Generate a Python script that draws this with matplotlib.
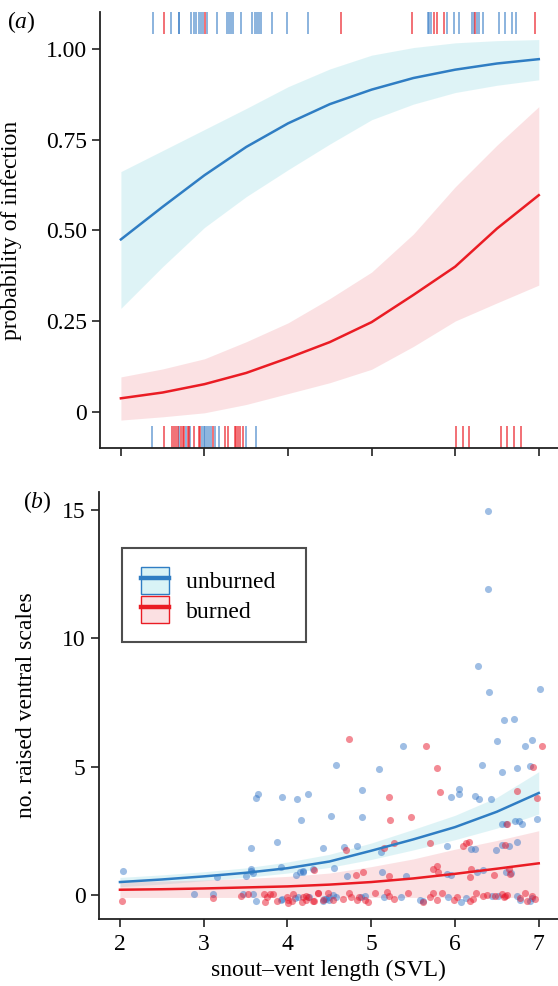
import matplotlib

matplotlib.use("Agg")
import matplotlib.pyplot as plt
from matplotlib.lines import Line2D
from matplotlib.patches import Patch

plt.rcParams["font.family"] = ["Liberation Serif", "DejaVu Serif"]
plt.rcParams["mathtext.fontset"] = "custom"
plt.rcParams["mathtext.rm"] = "Liberation Serif"
plt.rcParams["mathtext.it"] = "Liberation Serif:italic"

# panel (a): fitted probability of infection
fit_svl = [2.0, 2.5, 3.0, 3.5, 4.0, 4.5, 5.0, 5.5, 6.0, 6.5, 7.0]
prob_unburned = [0.475, 0.565, 0.652, 0.730, 0.795, 0.848, 0.888, 0.920, 0.943, 0.960, 0.972]
prob_unburned_lo = [0.285, 0.400, 0.508, 0.593, 0.667, 0.738, 0.805, 0.848, 0.880, 0.900, 0.915]
prob_unburned_hi = [0.662, 0.720, 0.778, 0.836, 0.896, 0.945, 0.983, 1.004, 1.017, 1.023, 1.026]
prob_burned = [0.037, 0.053, 0.076, 0.107, 0.148, 0.192, 0.247, 0.322, 0.400, 0.505, 0.597]
prob_burned_lo = [-0.023, -0.014, -0.003, 0.020, 0.050, 0.080, 0.117, 0.180, 0.250, 0.300, 0.349]
prob_burned_hi = [0.096, 0.118, 0.146, 0.193, 0.245, 0.312, 0.385, 0.490, 0.620, 0.735, 0.841]

# rugs: infected (top) and uninfected (bottom) lizards
rug_top_unburned = [2.38, 2.60, 2.69, 2.70, 2.84, 2.88, 2.90, 2.93, 2.96, 2.98, 3.03, 3.15,
                    3.27, 3.29, 3.32, 3.34, 3.44, 3.57, 3.61, 3.63, 3.65, 3.68, 3.81, 3.99,
                    4.24, 5.67, 5.69, 5.71, 5.90, 5.99, 6.05, 6.20, 6.22, 6.26, 6.28, 6.33,
                    6.53, 6.59, 6.68, 6.73]
rug_top_burned = [2.51, 3.01, 4.63, 5.48, 5.75, 5.78, 5.87, 6.24, 6.96]
rug_bottom_unburned = [2.37, 2.70, 2.78, 2.83, 2.97, 2.99, 3.01, 3.03, 3.05, 3.08, 3.12,
                       3.17, 3.50, 3.62]
rug_bottom_burned = [2.52, 2.61, 2.64, 2.66, 2.68, 2.72, 2.74, 2.76, 2.80, 2.81, 2.87,
                     2.93, 2.95, 3.10, 3.24, 3.28, 3.36, 3.38, 3.40, 3.43, 3.46, 6.01,
                     6.09, 6.17, 6.55, 6.62, 6.70, 6.79]

# panel (b): fitted counts of raised ventral scales
count_unburned = [0.50, 0.60, 0.72, 0.86, 1.04, 1.30, 1.72, 2.16, 2.64, 3.24, 3.97]
count_unburned_lo = [0.32, 0.42, 0.55, 0.68, 0.85, 1.07, 1.38, 1.75, 2.15, 2.60, 3.15]
count_unburned_hi = [0.68, 0.78, 0.90, 1.05, 1.28, 1.58, 2.02, 2.55, 3.10, 3.80, 4.80]
count_burned = [0.20, 0.22, 0.25, 0.29, 0.33, 0.40, 0.50, 0.64, 0.82, 1.02, 1.23]
count_burned_lo = [-0.10, -0.10, -0.10, -0.10, -0.10, -0.10, -0.10, -0.10, -0.10, -0.10, -0.10]
count_burned_hi = [0.50, 0.54, 0.58, 0.64, 0.72, 0.85, 1.10, 1.40, 1.78, 2.12, 2.50]

# observed lizards (jittered as drawn)
obs_svl_unburned = [6.40, 6.40, 6.27, 6.41, 7.02, 6.59, 6.71, 6.50, 6.92, 6.84, 5.38,
                    4.58, 5.09, 6.32, 6.56, 6.74, 6.90, 4.89, 5.95, 6.05, 6.05, 6.24,
                    6.29, 6.43, 4.52, 4.89, 6.56, 6.61, 6.72, 6.76, 6.80, 6.98, 4.42,
                    4.68, 4.83, 5.12, 5.90, 6.19, 6.24, 6.49, 6.56, 6.65, 6.74, 4.18,
                    4.30, 4.56, 4.71, 5.13, 5.41, 5.90, 5.95, 6.33, 6.26, 6.61, 6.67,
                    2.04, 3.65, 3.62, 3.93, 4.11, 4.25, 4.16, 3.87, 3.56, 3.57, 3.56,
                    3.59, 3.16, 3.51, 3.92, 4.10, 4.15, 4.19,
                    2.89, 3.11, 3.47, 3.59, 3.63, 3.92, 3.94, 4.09, 4.12, 4.42, 4.46,
                    4.50, 4.26, 4.44, 4.50, 4.54, 4.58, 4.88, 4.92, 5.15, 5.35, 5.58,
                    5.62, 5.92, 6.07, 6.13, 6.44, 6.51, 6.74, 6.78, 6.90, 6.92]
obs_count_unburned = [14.97, 11.93, 8.92, 7.89, 8.01, 6.81, 6.86, 5.98, 6.05, 5.82, 5.82,
                      5.06, 4.92, 5.06, 4.80, 4.95, 5.02, 4.09, 3.80, 4.11, 3.92, 3.84,
                      3.73, 3.72, 3.07, 3.02, 2.76, 2.75, 2.86, 2.87, 2.77, 2.95, 1.81,
                      1.86, 1.91, 1.69, 1.91, 1.80, 1.80, 1.73, 1.95, 1.91, 2.08, 0.91,
                      1.00, 1.03, 0.75, 0.91, 0.75, 0.80, 0.78, 0.96, 0.90, 0.88, 0.84,
                      0.95, 3.95, 3.77, 3.80, 3.73, 3.92, 2.90, 2.08, 1.82, 1.02, 0.95,
                      0.84, 0.71, 0.75, 1.08, 0.79, 0.88, 0.92,
                      0.02, 0.04, 0.04, 0.04, -0.22, -0.20, -0.17, -0.12, -0.07, -0.25, -0.17,
                      -0.09, -0.09, -0.16, -0.20, 0.00, -0.09, -0.09, -0.03, -0.09, -0.09, -0.20,
                      -0.22, -0.09, -0.29, -0.12, -0.04, -0.03, -0.03, -0.20, -0.22, -0.12]
obs_svl_burned = [4.73, 5.66, 7.04, 5.78, 6.93, 5.21, 5.82, 6.74, 6.98, 5.23, 5.48, 6.62,
                  4.70, 5.15, 5.27, 5.70, 6.10, 6.13, 6.17, 6.60, 4.32, 4.82, 4.90, 5.21,
                  5.74, 5.78, 5.80, 6.19, 6.18, 6.47, 6.64, 6.66,
                  2.02, 3.11, 3.44, 3.53, 3.72, 3.75, 3.79, 3.87, 3.83, 3.73, 3.99, 4.01,
                  4.01, 4.05, 4.07, 4.17, 4.22, 4.24, 4.30, 4.36,
                  4.18, 4.22, 4.32, 4.37, 4.42, 4.48, 4.54, 4.66, 4.74, 4.76, 4.83, 4.85,
                  4.92, 4.96, 5.05, 5.19, 5.21, 5.27, 5.44, 5.62, 5.70, 5.74, 5.78, 5.85,
                  5.99, 6.02, 6.18, 6.21, 6.25, 6.33, 6.38, 6.48, 6.56, 6.58, 6.60, 6.62,
                  6.78, 6.84, 6.86, 6.92, 6.96]
obs_count_burned = [6.09, 5.82, 5.82, 4.93, 4.98, 3.80, 4.02, 4.04, 3.79, 2.90, 3.05, 2.76,
                    1.73, 1.84, 2.03, 2.02, 1.89, 2.03, 2.05, 1.96, 0.96, 0.78, 0.88, 0.75,
                    1.00, 1.11, 0.88, 1.02, 0.71, 0.79, 0.99, 0.82,
                    -0.25, -0.12, -0.04, 0.02, 0.04, -0.07, 0.04, -0.22, 0.04, -0.26, -0.09, -0.20,
                    -0.31, -0.25, 0.04, -0.29, -0.03, -0.09, -0.22, 0.09,
                    -0.07, -0.20, -0.22, 0.06, -0.20, 0.09, -0.20, -0.16, 0.06, -0.09, -0.20, -0.07,
                    -0.20, -0.29, 0.09, 0.10, -0.03, -0.17, 0.06, -0.29, -0.09, 0.06, -0.20, 0.09,
                    -0.20, -0.09, -0.22, -0.17, 0.09, -0.04, 0.00, -0.04, 0.04, -0.09, -0.03, 0.01,
                    -0.13, 0.06, -0.22, -0.04, -0.18]

BLUE = "#2f7dc3"
RED = "#ea1c24"
BLUE_FILL = "#7fd3dd"
RED_FILL = "#f08a92"
FS = 17


def style_axes(ax):
    for side in ("top", "right"):
        ax.spines[side].set_visible(False)
    for side in ("left", "bottom"):
        ax.spines[side].set_linewidth(1.3)
        ax.spines[side].set_color("#222222")
    ax.tick_params(direction="out", length=6, width=1.2, labelsize=FS, color="#222222")
    ax.tick_params(axis="x", pad=5)
    ax.set_xlim(1.75, 7.23)
    ax.set_xticks([2, 3, 4, 5, 6, 7])


def draw_infection(ax):
    ax.fill_between(fit_svl, prob_unburned_lo, prob_unburned_hi, color=BLUE_FILL, alpha=0.25, lw=0)
    ax.fill_between(fit_svl, prob_burned_lo, prob_burned_hi, color=RED_FILL, alpha=0.25, lw=0)
    ax.plot(fit_svl, prob_unburned, color=BLUE, lw=1.8)
    ax.plot(fit_svl, prob_burned, color=RED, lw=1.8)

    trans = ax.get_xaxis_transform()
    ax.vlines(rug_top_unburned, 0.95, 1.0, transform=trans, color="#3c7fc6", lw=1.1, alpha=0.75)
    ax.vlines(rug_top_burned, 0.95, 1.0, transform=trans, color=RED, lw=1.1, alpha=0.8)
    ax.vlines(rug_bottom_unburned, 0.0, 0.05, transform=trans, color="#3c7fc6", lw=1.1, alpha=0.75)
    ax.vlines(rug_bottom_burned, 0.0, 0.05, transform=trans, color=RED, lw=1.1, alpha=0.8)

    style_axes(ax)
    ax.set_ylim(-0.1, 1.102)
    ax.set_yticks([0, 0.25, 0.5, 0.75, 1.0])
    ax.set_yticklabels(["0", "0.25", "0.50", "0.75", "1.00"])
    ax.tick_params(axis="x", labelbottom=False)
    ax.set_ylabel("probability of infection", fontsize=FS)


def draw_scales(ax):
    ax.fill_between(fit_svl, count_unburned_lo, count_unburned_hi, color=BLUE_FILL, alpha=0.25, lw=0)
    ax.fill_between(fit_svl, count_burned_lo, count_burned_hi, color=RED_FILL, alpha=0.25, lw=0)
    ax.scatter(obs_svl_unburned, obs_count_unburned, s=26, color="#2a6fc4", alpha=0.45, lw=0, zorder=3)
    ax.scatter(obs_svl_burned, obs_count_burned, s=26, color="#e8192c", alpha=0.5, lw=0, zorder=3)
    ax.plot(fit_svl, count_unburned, color=BLUE, lw=1.8, zorder=4)
    ax.plot(fit_svl, count_burned, color=RED, lw=1.8, zorder=4)

    style_axes(ax)
    ax.set_ylim(-0.94, 15.7)
    ax.set_yticks([0, 5, 10, 15])
    ax.set_xlabel("snout\u2013vent length (SVL)", fontsize=FS, labelpad=3)
    ax.set_ylabel("no. raised ventral scales", fontsize=FS)

    handles = [
        (Patch(facecolor="#d9f3f6", edgecolor=BLUE, lw=1.0), Line2D([], [], color=BLUE, lw=3.2)),
        (Patch(facecolor="#fbe0e2", edgecolor=RED, lw=1.0), Line2D([], [], color=RED, lw=3.2)),
    ]
    leg = ax.legend(handles, ["unburned  ", "burned"], loc="upper left",
                    bbox_to_anchor=(23 / 459, 1 - 56 / 427), fontsize=FS, frameon=True,
                    fancybox=False, handlelength=1.2, handleheight=1.4, borderpad=0.8,
                    labelspacing=0.08, handletextpad=0.7, borderaxespad=0)
    leg.get_frame().set_edgecolor("#222222")
    leg.get_frame().set_linewidth(1.5)


def main():
    fig = plt.figure(figsize=(5.58, 9.86), dpi=100)
    ax_a = fig.add_axes([100 / 558, 1 - 448 / 986, 458 / 558, 436 / 986])
    ax_b = fig.add_axes([99 / 558, 1 - 919 / 986, 459 / 558, 427 / 986])

    draw_infection(ax_a)
    draw_scales(ax_b)
    ax_a.yaxis.set_label_coords(-78 / 458, 0.5)
    ax_b.yaxis.set_label_coords(-62 / 459, 0.5)

    fig.text(7 / 558, 1 - 22 / 986, r"($\it{a}$)", fontsize=FS, va="center", ha="left")
    fig.text(23 / 558, 1 - 502 / 986, r"($\it{b}$)", fontsize=FS, va="center", ha="left")

    fig.savefig("out.png", dpi=100)
    plt.close(fig)


if __name__ == "__main__":
    main()
